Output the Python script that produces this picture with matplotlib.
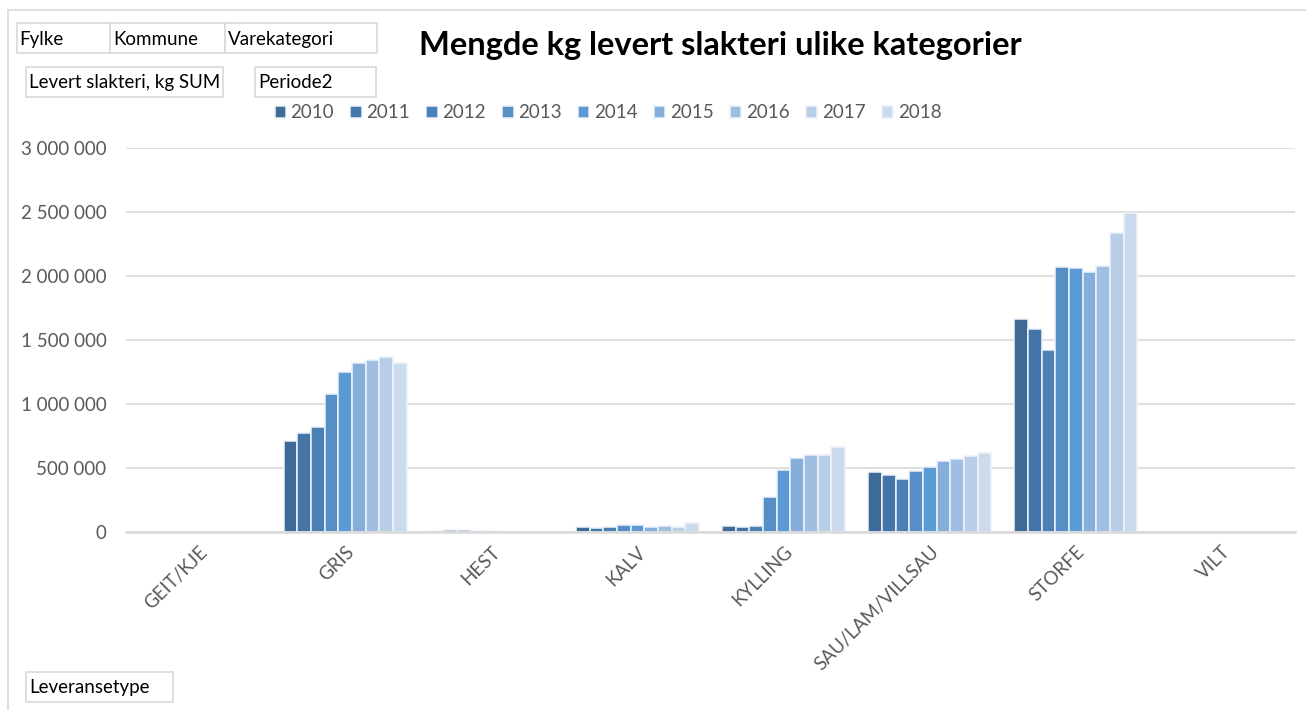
import numpy as np
import matplotlib
matplotlib.use("Agg")
import matplotlib.pyplot as plt
from matplotlib.patches import Rectangle
from matplotlib.lines import Line2D
from matplotlib.ticker import FuncFormatter

# --- data -------------------------------------------------------------
categories = ["GEIT/KJE", "GRIS", "HEST", "KALV", "KYLLING",
              "SAU/LAM/VILLSAU", "STORFE", "VILT"]
years = ["2010", "2011", "2012", "2013", "2014", "2015", "2016", "2017", "2018"]

nan = np.nan
# kg delivered per category (rows follow `categories`, columns follow `years`)
geit_kje = [nan] * 9
gris = [709000, 773000, 818000, 1081000, 1250000, 1323000, 1344000, 1365000, 1323000]
hest = [10000, 13000, 18000, 10000, 10000, nan, nan, nan, nan]
kalv = [36000, 31000, 42000, 57000, 52000, 42000, 49000, 39000, 73000]
kylling = [45000, 40000, 45000, 276000, 482000, 579000, 600000, 603000, 663000]
sau_lam = [468000, 442000, 411000, 479000, 511000, 555000, 568000, 597000, 621000]
storfe = [1667000, 1584000, 1422000, 2073000, 2060000, 2034000, 2081000, 2334000, 2495000]
vilt = [nan] * 9

y_ticks = [0, 500000, 1000000, 1500000, 2000000, 2500000, 3000000]

table = np.array([geit_kje, gris, hest, kalv, kylling, sau_lam, storfe, vilt], dtype=float)

colors = ["#3D6A96", "#4375A8", "#4A80B6", "#558FC6", "#5B9BD5",
          "#86AEDB", "#A0BDE2", "#B8CDE8", "#CCDAEE"]

# --- figure -----------------------------------------------------------
W, H = 1306, 710
fig = plt.figure(figsize=(W / 100, H / 100), dpi=100)
fig.patch.set_facecolor("white")


def fx(px):
    return px / W


def fy(py):
    return 1 - py / H


FONT = "Lato"
GREY = "#595959"
LINE = "#D9D9D9"

ax_left, ax_right = 126, 1295
ax_top, ax_bottom = 148, 532
ax = fig.add_axes([fx(ax_left), fy(ax_bottom),
                   fx(ax_right - ax_left), (ax_bottom - ax_top) / H])

n_cat = len(categories)
n_ser = len(years)
group = 0.842
slot = group / n_ser
x = np.arange(n_cat)

for j, yr in enumerate(years):
    offs = -group / 2 + slot * (j + 0.5)
    ax.bar(x + offs, table[:, j], width=slot, color=colors[j],
           edgecolor="#EEF3FA", linewidth=1.1, label=yr, zorder=3)

ax.set_xlim(-0.5, n_cat - 0.5)
ax.set_ylim(0, 3000000)
ax.set_yticks(y_ticks)
ax.yaxis.set_major_formatter(FuncFormatter(lambda v, p: f"{int(v):,}".replace(",", " ")))
ax.grid(axis="y", color=LINE, linewidth=1.2, zorder=0)
ax.set_axisbelow(True)
for s in ["top", "right", "left"]:
    ax.spines[s].set_visible(False)
ax.spines["bottom"].set_color(LINE)
ax.spines["bottom"].set_linewidth(1.8)
ax.spines["bottom"].set_zorder(4)
ax.tick_params(axis="y", length=0, pad=14, labelsize=13.5, labelcolor=GREY)
ax.tick_params(axis="x", length=0, pad=8, labelsize=13.5, labelcolor=GREY)
ax.set_xticks(x)
ax.set_xticklabels(categories, rotation=45, ha="right", rotation_mode="anchor",
                   fontfamily=FONT)
for lab in ax.get_yticklabels():
    lab.set_fontfamily(FONT)

leg = ax.legend(loc="center", bbox_to_anchor=(fx(608), fy(113)),
                bbox_transform=fig.transFigure, ncol=n_ser, frameon=False,
                handlelength=0.6, handleheight=0.6, handletextpad=0.25,
                columnspacing=0.87, prop={"family": FONT, "size": 13.5})
for t in leg.get_texts():
    t.set_color(GREY)

# title
fig.text(fx(720), fy(45), "Mengde kg levert slakteri ulike kategorier",
         ha="center", va="center", fontsize=23.5, fontweight="bold",
         fontfamily=FONT, color="black")

# chart border (left and top)
fig.add_artist(Line2D([fx(8.3), fx(8.3)], [fy(10), fy(710)], color=LINE, lw=1.2))
fig.add_artist(Line2D([fx(8.3), fx(1306)], [fy(10), fy(10)], color=LINE, lw=1.2))

# field buttons
buttons = [
    ("Fylke", 16.7, 110, 23.3, 53.3),
    ("Kommune", 110, 225, 23.3, 53.3),
    ("Varekategori", 225, 376.7, 23.3, 53.3),
    ("Levert slakteri, kg SUM", 26, 222.7, 66.7, 96.7),
    ("Periode2", 255, 376, 66.7, 96.7),
    ("Leveransetype", 26, 173.3, 671.7, 701.7),
]
for label, x0, x1, y0, y1 in buttons:
    fig.add_artist(Rectangle((fx(x0), fy(y1)), fx(x1 - x0), (y1 - y0) / H,
                             facecolor="white", edgecolor=LINE, lw=1.2))
    fig.text(fx(x0 + 3), fy((y0 + y1) / 2 + 1), label, ha="left", va="center",
             fontsize=13.5, fontfamily=FONT, color="black")

fig.savefig("out.png", dpi=100, facecolor="white")
